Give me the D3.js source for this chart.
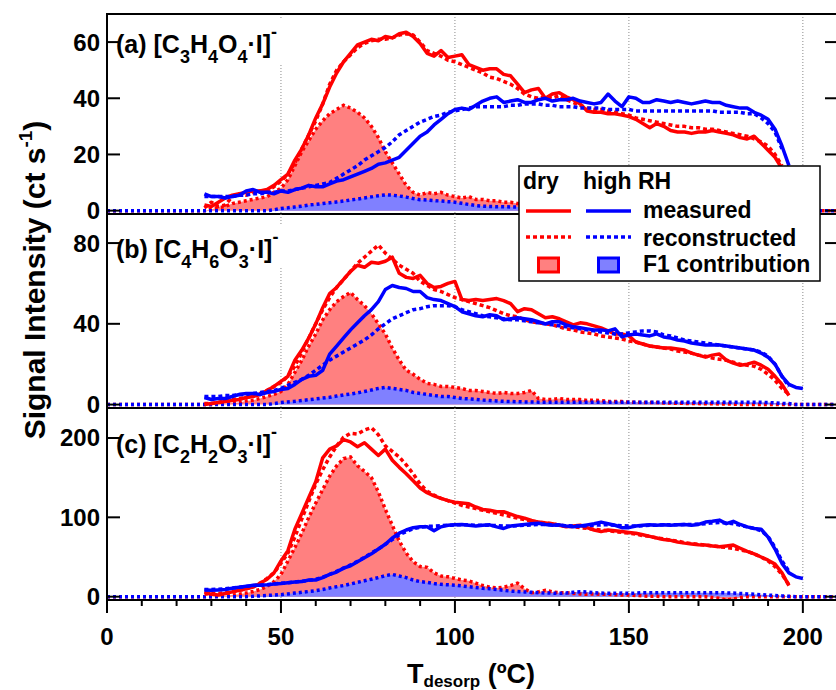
<!DOCTYPE html>
<html>
<head>
<meta charset="utf-8">
<script src="https://cdn.jsdelivr.net/npm/d3@7"></script>
<style>
  body { margin: 0; background: #fff; }
  svg { display: block; }
  text { font-family: Arial, "Liberation Sans", sans-serif; font-weight: bold; fill: #000; }
</style>
</head>
<body>
<svg id="chart" width="836" height="690"></svg>
<script>
// Desorption temperature grid (ºC) shared by every thermogram
const temperature = [28,30,32,34,36,38,40,42,44,46,48,50,52,54,56,58,60,62,64,66,68,70,72,74,76,78,80,82,84,86,88,90,92,94,96,98,100,102,104,106,108,110,112,114,116,118,120,122,124,126,128,130,132,134,136,138,140,142,144,146,148,150,152,154,156,158,160,162,164,166,168,170,172,174,176,178,180,182,184,186,188,190,192,194,196,198,200];

// (a) [C3H4O4·I]-
const aDryMeasured = [2,1.5,3,4.5,5.5,6,6.5,7,7,7.5, 9,11,13,18,22,27,33,38,44,49, 53,56,59,60,61,60.5,62,61.5,63,63.5, 62,59.5,56,55,57,54.5,55,55.5,52,51, 50,50.5,50.5,48.5,48,45,42,43,43.5,40, 41.5,42,40.5,39.5,38,35.5,35,35,34.5,34.5, 34,33.5,32.5,31,29.5,31,30,28.5,28,28, 27.5,28,28,28.5,28,27.5,27,26,25.5,26.5, 24,21.5,19,15,null,null,null];
const aDryReconstructed = [1,3,1.5,2,5,6,5.5,6.5,7,7, 8.5,10.5,13,17,22,27,32,38,45,50, 53,55.5,58,59.5,60.5,61,61,61.5,62.5,63, 62.5,60,57,56,55,53.5,53,52,51,50, 49,47.5,47,46,45,43.5,41.5,40.5,40,40.5, 40,41,39.5,38.5,37.5,36.5,36,36,35.5,35, 34.5,34,33,32.5,32,31.5,31,30.5,30,30, 29.5,29.5,29,29,28.5,28,27.5,27,26.5,25.5, 24.5,23,20,16,null,null,null];
const aWetMeasured = [6,5,5,4.5,5,5.5,7,7.5,6.5,6.5, 6,7,6.5,7.5,8,9,8.5,8.5,9.5,10.5, 11,12,13,14,15,16.5,17,18,19,21.5, 24,26.5,28,30.5,32.5,34.5,36,36.5,36,37.5, 39,40,40.5,38.5,39,39.5,38.5,38.5,39.5,40, 39,39.5,39.5,40,39,38.5,38,38.5,41.5,39, 37,40.5,40,38.5,38.5,39.5,39,38.5,39,38.5, 38,38.5,39,38.5,38.5,37.5,37,36.5,36.5,35, 34,32.5,29,23,16,null,null];
const aWetReconstructed = [5,5,5,5,5,5.5,5.5,6,6,6.5, 6.5,7,7,7.5,8,8.5,9,9.5,10,11.5, 13,14.5,16,18,19.5,21,22.5,24.5,27,28.5, 30,31.5,32.5,33.5,34,35,35.5,36,36.5,37, 37,37,37,37,37.5,37.5,38,38,38,37.5, 37.5,37,37,37,36.5,36.5,36.5,36.5,36,36, 36,36,35.5,35.5,35.5,35.5,35.5,35.5,35.5,35.5, 35.5,35.5,35.5,35.5,35,35,35,35,34.5,34.5, 33,31,28,22,null,null,null];
const aDryF1 = [0,0.5,1,1.5,2.5,3,3.5,4,4.5,5, 6.5,8,11,16,21,25,29,32,34.5,36, 37.5,36.5,35,33,30,26,21,17,13,9, 6.5,5.5,6.5,6,6.5,5.5,5,4.5,5,4, 4,3.5,3.5,3,3,2.5,2.5,2,2,2, 1.5,1.5,1.5,1,1,1,0.8,0.8,0.6,0.6, 0.5,0.5,0.4,0.4,0.3,0.3,0.2,0.2,0,0, 0,0,0,0,0,0,0,0,0,0, 0,0,0,0,0,0,0];
const aWetF1 = [0,0,0,0,0,0,0,0,0,0, 0.3,0.8,1,1.3,1.6,2,2.2,2.5,2.8,3.1, 3.4,3.8,4.1,4.5,4.9,5.3,5.6,5.5,5.2,4.8, 4.3,3.9,3.8,3.6,3.4,3.2,3,2.6,2.2,1.8, 1.6,1.5,1.4,1.4,1.3,1.3,1.2,1.2,1.2,1.2, 1.2,1.2,1.2,1.2,1.2,1.2,1.2,1.2,1.2,1.2, 1.2,1.2,1.2,1.2,1.2,1.2,1.2,1.2,1.2,1.2, 1.1,1.1,1,1,1,1,1,0.9,0.8,0.8, 0.6,0.5,0.3,0.2,0,0,0];

// (b) [C4H6O3·I]-
const bDryMeasured = [0,0.5,1,1.5,2,2.5,3.5,4,5,7, 9,11.5,14,22,27,33,40,48,55,58, 62,66,69,68,70.5,70,71,73,65,63, 62.5,64,60,58,58.5,60,61,52,51.5,52, 51.5,52,52.5,51.5,50,46,47.5,47,45,43, 43.5,42.5,41,39.5,40.5,40,39,38,36.5,35, 35,34,31,30,29,28.5,28,28,27.5,27, 25.5,24.5,23.5,24.5,25,22,20.5,19.5,20,21, 19.5,17.5,14,10,4.5,null,null];
const bDryReconstructed = [0.5,0.5,1,2,2.5,3,3.5,4.5,5.5,7, 9,11,14,19,26,33,40,47,53,58, 62,66,70,73,76,79,75,72,69,67, 65,61,59,57,56,54.5,53,52,51,50, 49,48,46.5,45,44,43.5,42,41,40.5,40, 39.5,38.5,37.5,37,36,35.5,35,34,33.5,33, 32.5,31.5,31,30,29,28.5,28,27.5,26.5,26, 25.5,24.5,24,23,22.5,22,21,20,19.5,19, 17.5,15,12,8,5,null,null];
const bWetMeasured = [3.5,2.5,3,3,4,5,5.5,5.5,5,6, 6.5,7.5,8,10,12.5,14,14.5,17,25,29, 33,37,40.5,44,47,51,57,59,58,57.5, 56,56,53,52,51.5,50,48.5,46,45,44, 43.5,44.5,44,42,42.5,43,42.5,42,41,40, 41,41,39.5,38.5,38,37.5,37,37,36.5,37.5, 33.5,34.5,35,34.5,34,35,33.5,33,32,31.5, 30.5,30,29.5,29.5,29.5,29,28.5,28,27.5,27, 25.5,23.5,20,14,10,8.5,8];
const bWetReconstructed = [4,4,4,4.5,4.5,5,5,5.5,6,6.5, 7,8,9.5,11,12.5,14.5,17,19.5,22,24, 26,28,30,32,34.5,37.5,40,42.5,44,45.5, 47,47.5,48.5,49,49,49,48.5,47,46,45, 44,43.5,43,42.5,42,42,41.5,41,40.5,40, 39.5,39,38.5,38,37.5,37,36.5,36,35.5,35, 35,35.5,36,36.5,36.5,36,34.5,34,33,32, 31.5,31,30.5,30,29.5,29,28.5,28,27.5,27, 26,24,20,14,9,null,null];
const bDryF1 = [0,0,0.3,0.5,0.8,1,1.8,2.2,3,4, 5,6.5,10,16,22,29,35,42,47,51, 53.5,55.5,52,49,45,40,35,28,22,17, 15,12.5,10.5,10,9,9,8.5,8,7,7, 6.5,6,5.5,6,5.5,5.5,6,7,3,2.5, 2.5,3,2.5,2.5,2.5,2,2.2,2,1.5,1.5, 1.5,1.2,1.2,1,1,1,0.8,0.8,0.6,0.6, 0.5,0.5,0.4,0.4,0.3,0.3,0.2,0,0,0, 0,0,0,0,0,0,0];
const bWetF1 = [0,0,0,0,0,0,0,0,0,0, 0.5,1,1.3,1.6,2,2.4,2.8,3.2,3.6,4.2, 4.8,5.2,5.8,6.5,7.2,8,8.5,8,7.5,7, 6,5.5,5,4.5,4,4,3.5,3,2.8,2.5, 2.2,2,1.8,1.6,1.5,1.4,1.3,1.3,1.2,1.2, 1.2,1.2,1.2,1.2,1.2,1.2,1.2,1.2,1.2,1.2, 1.2,1.2,1.2,1.2,1.2,1.2,1.2,1.2,1.2,1.2, 1.2,1.2,1.2,1.2,1.2,1.2,1.2,1.2,1.2,1.2, 1.1,1,0.8,0.6,0.5,0,0];

// (c) [C2H2O3·I]-
const cDryMeasured = [6,3,2,4,6,8,10,12,17,22, 30,45,58,85,105,125,145,175,186,190, 198,195,189,194,186,178,186,172,163,155, 146,137,131,127,124,121,119,118,117,113, 110,109,107,107,104,101,99,96,94,93, 92,90,88,89,90,87,84,82,84,83, 82,81,80,78,76,74,72,71,69,67.5, 66.5,65.5,65,64,63,64,65,61,57,54, 50,46,41,30,14,null,null];
const cDryReconstructed = [3,4,4,5,6,8,10,13,17,23, 30,42,55,75,98,120,142,160,176,190, 201,206,205,210,213,204,190,183,176,166, 155,142,133,128,124,121,118,115,113,111, 109,107,105,103,101,99,97,95,94,93, 92,90,89,88,87,86,85,84,83,82, 81,80,79,77,76,74,73,71,70,68, 67,66,65,64,63,62,61,59,57,54, 50,45,38,28,15,null,null];
const cWetMeasured = [8.5,8,8.5,9,10.5,12,13,14.5,14.5,15, 16,16.5,17.5,18.5,19,21,21,24,28,31, 36,39,44,49,54,60,66,74,80,84, 87,88,88,83,88,90,90.5,91,90,89, 90,90.5,88,86,89,90,91,92,92.5,91, 90,90.5,89,88,89,90.5,92,94,92,90, 87,87,89,90,90.5,90,90.5,90,90.5,91, 90,91,94,95,96.5,92,95,91,88,86, 85,75,60,42,30,25,23];
const cWetReconstructed = [9,9,9.5,10,11,12,13,14,14.5,15, 16,17,17.5,18.5,19.5,20.5,22,24.5,28,32, 36,40,44.5,49.5,55,60,66,72,78,82, 85.5,87.5,88.5,89,89.5,90,90.5,90.5,90.5,90, 90,90,89.5,89,89,89.5,90,90.5,91,91, 90.5,90,89.5,89,89,89.5,90,90.5,90.5,90, 89.5,89,89,89.5,90,90,90.5,90.5,90.5,91, 91,91.5,92,93,93.5,93,92,90,88,86, 83,76,62,45,32,null,null];
const cDryF1 = [0,0,0.5,1,2,3,4.5,6.5,9,13, 19,28,45,62,80,100,118,135,152,165, 174,176,165,158,150,132,110,90,70,55, 44,38,37,30,26,25,23,21,20,17, 14,12,11,12,14,17,10,5,6,8, 6,5,5,4,3.5,3,3.5,3,3,2.5, 2,2,1.5,1,0.5,0.5,0,0,0,0, 0,0,0,-1,-2,-4,-3,-1,0,0, 0,0,0,0,0,0,0];
const cWetF1 = [0,0,0,0,0,0,0,0.5,1,1.5, 2,2.5,3.5,4.5,5.5,6.5,7.5,9,11,12.5, 14,16,18,20,22,24,26.5,28,26,24, 21,19,18,16.5,15.5,15,14.5,13.5,12.5,11.5, 10.5,10,9,8,7,6.5,6,5.5,5,4.5, 4.5,4.2,4.5,5.5,6.3,6,5,4.5,4.2,4.2, 4.5,4.2,4.5,5,5,4.8,5,5,4.8,5, 5,5,4.8,5,5,4.8,4.5,4,3.5,3, 2.5,2,1.5,1,0.5,0,0];

// Panel tags, ion formulas (element, count) and y-axis settings
const panelTags = ["(a)", "(b)", "(c)"];
const ionFormulas = [
  [["C","3"],["H","4"],["O","4"]],
  [["C","4"],["H","6"],["O","3"]],
  [["C","2"],["H","2"],["O","3"]]
];
const yTickValues = [[0,20,40,60], [0,40,80], [0,100,200]];
const yLimits = [[-1.2,70], [-1.7,94.4], [-4.2,237.8]];

// x axis
const xLimits = [0, 210.1];
const xMajorTicks = [0, 50, 100, 150, 200];
const xMinorTicks = [10,20,30,40,60,70,80,90,110,120,130,140,160,170,180,190];
const xGridTemps = [50, 100, 150, 200];

// Legend text
const legendHeaders = ["dry", "high RH"];
const legendRows = ["measured", "reconstructed", "F1 contribution"];

const RED = "#ff0000", BLUE = "#0000ff", PINK = "#ff8080", LAVENDER = "#8080ff";
const LINE_W = 3.5;

const panelsData = [
  { dry: aDryMeasured, dryRec: aDryReconstructed, wet: aWetMeasured, wetRec: aWetReconstructed, dryF1: aDryF1, wetF1: aWetF1 },
  { dry: bDryMeasured, dryRec: bDryReconstructed, wet: bWetMeasured, wetRec: bWetReconstructed, dryF1: bDryF1, wetF1: bWetF1 },
  { dry: cDryMeasured, dryRec: cDryReconstructed, wet: cWetMeasured, wetRec: cWetReconstructed, dryF1: cDryF1, wetF1: cWetF1 }
];

// ---------- layout ----------
const svg = d3.select("#chart");
const plotLeft = 107, plotRight = 838;
const panelBands = [[14, 214], [214, 408], [408, 600]];
const labelBaselines = [53, 258, 453];

const x = d3.scaleLinear().domain(xLimits).range([plotLeft, plotRight]);

const pairs = vals => temperature.map((t, i) => ({ t, v: vals[i] }));
// factor traces are zero outside the desorption window, across the full axis
const paddedPairs = vals => [{ t: xLimits[0], v: 0 }, ...pairs(vals), { t: xLimits[1], v: 0 }];

panelsData.forEach((pd, p) => {
  const [top, bottom] = panelBands[p];
  const y = d3.scaleLinear().domain(yLimits[p]).range([bottom, top]);
  const g = svg.append("g");

  const clipId = "clip" + p;
  svg.append("clipPath").attr("id", clipId)
    .append("rect").attr("x", plotLeft).attr("y", top).attr("width", plotRight - plotLeft).attr("height", bottom - top);

  // vertical dotted grid
  g.selectAll(".grid").data(xGridTemps).join("line")
    .attr("x1", d => x(d)).attr("x2", d => x(d))
    .attr("y1", top).attr("y2", bottom)
    .attr("stroke", "#8a8a8a").attr("stroke-width", 1).attr("stroke-dasharray", "1,2");

  // white panel-label backdrop
  g.append("rect")
    .attr("x", plotLeft + 7).attr("y", labelBaselines[p] - 33)
    .attr("width", 171).attr("height", 43).attr("fill", "#fff");

  const data = g.append("g").attr("clip-path", `url(#${clipId})`);

  const line = d3.line().defined(d => d.v != null).x(d => x(d.t)).y(d => y(d.v));
  const area = d3.area().defined(d => d.v != null).x(d => x(d.t)).y0(y(0)).y1(d => y(d.v));

  // F1 contributions (filled, dotted outline)
  data.append("path").datum(paddedPairs(pd.dryF1)).attr("d", area).attr("fill", PINK);
  data.append("path").datum(paddedPairs(pd.wetF1)).attr("d", area).attr("fill", LAVENDER);
  data.append("path").datum(paddedPairs(pd.dryF1)).attr("d", line)
    .attr("fill", "none").attr("stroke", RED).attr("stroke-width", LINE_W).attr("stroke-dasharray", "3,3");
  data.append("path").datum(paddedPairs(pd.wetF1)).attr("d", line)
    .attr("fill", "none").attr("stroke", BLUE).attr("stroke-width", LINE_W).attr("stroke-dasharray", "3,3");

  const drawTrace = (vals, color, dashed) => {
    data.append("path").datum(pairs(vals)).attr("d", line)
      .attr("fill", "none").attr("stroke", color).attr("stroke-width", LINE_W)
      .attr("stroke-linejoin", "round")
      .attr("stroke-dasharray", dashed ? "4,3" : null);
  };
  drawTrace(pd.dry, RED, false);
  drawTrace(pd.dryRec, RED, true);
  drawTrace(pd.wet, BLUE, false);
  drawTrace(pd.wetRec, BLUE, true);

  // frame
  g.append("line").attr("x1", plotLeft).attr("x2", plotLeft).attr("y1", top - 1).attr("y2", bottom + 1)
    .attr("stroke", "#000").attr("stroke-width", 2);
  g.append("line").attr("x1", plotRight).attr("x2", plotRight).attr("y1", top).attr("y2", bottom)
    .attr("stroke", "#000").attr("stroke-width", 2);
  g.append("line").attr("x1", plotLeft).attr("x2", plotRight).attr("y1", bottom).attr("y2", bottom)
    .attr("stroke", "#000").attr("stroke-width", 2);
  if (p === 0) {
    g.append("line").attr("x1", plotLeft).attr("x2", plotRight).attr("y1", top).attr("y2", top)
      .attr("stroke", "#000").attr("stroke-width", 2);
  }

  // left / right ticks point inward
  g.selectAll(".ltick").data(yTickValues[p]).join("line")
    .attr("x1", plotLeft).attr("x2", plotLeft + 13)
    .attr("y1", d => y(d)).attr("y2", d => y(d))
    .attr("stroke", "#000").attr("stroke-width", 2);
  g.selectAll(".rtick").data(yTickValues[p]).join("line")
    .attr("x1", plotRight).attr("x2", plotRight - 13)
    .attr("y1", d => y(d)).attr("y2", d => y(d))
    .attr("stroke", "#000").attr("stroke-width", 2);
  g.selectAll(".ylab").data(yTickValues[p]).join("text")
    .attr("x", 100).attr("y", d => y(d) + 8.5)
    .attr("text-anchor", "end").attr("font-size", 24)
    .text(d => d);

  // ion label
  const label = g.append("text").attr("x", plotLeft + 9).attr("y", labelBaselines[p]).attr("font-size", 25);
  let shift = 0;
  const seg = (txt, size, off) => {
    label.append("tspan").attr("font-size", size).attr("dy", off - shift).text(txt);
    shift = off;
  };
  seg(panelTags[p] + " [", 25, 0);
  ionFormulas[p].forEach(([el, n]) => { seg(el, 25, 0); seg(n, 18, 10); });
  seg("·I]", 25, 0);
  seg("-", 18, -15);

  // bottom x axis on the last panel only
  if (p === panelBands.length - 1) {
    g.selectAll(".xmaj").data(xMajorTicks).join("line")
      .attr("x1", d => x(d)).attr("x2", d => x(d)).attr("y1", bottom).attr("y2", bottom + 13)
      .attr("stroke", "#000").attr("stroke-width", 2);
    g.selectAll(".xmin").data(xMinorTicks).join("line")
      .attr("x1", d => x(d)).attr("x2", d => x(d)).attr("y1", bottom).attr("y2", bottom + 6)
      .attr("stroke", "#000").attr("stroke-width", 2);
    g.selectAll(".xlab").data(xMajorTicks).join("text")
      .attr("x", d => x(d)).attr("y", bottom + 45)
      .attr("text-anchor", "middle").attr("font-size", 24)
      .text(d => d);
  }
});

// axis titles
const yTitle = svg.append("text")
  .attr("transform", "translate(45,280) rotate(-90)")
  .attr("text-anchor", "middle").attr("font-size", 30);
yTitle.append("tspan").text("Signal Intensity (ct s");
yTitle.append("tspan").attr("font-size", 19).attr("dy", -13).text("-1");
yTitle.append("tspan").attr("dy", 13).text(")");

const xTitle = svg.append("text").attr("x", 407).attr("y", 683).attr("font-size", 27);
xTitle.append("tspan").text("T");
xTitle.append("tspan").attr("font-size", 17).attr("dy", 4).text("desorp");
xTitle.append("tspan").attr("dy", -4).text(" (ºC)");

// legend
const lg = svg.append("g");
lg.append("rect").attr("x", 519).attr("y", 166).attr("width", 301).attr("height", 115)
  .attr("fill", "#fff").attr("stroke", "#000").attr("stroke-width", 1.5);
lg.append("text").attr("x", 523).attr("y", 189).attr("font-size", 23).text(legendHeaders[0]);
lg.append("text").attr("x", 583).attr("y", 189).attr("font-size", 23).text(legendHeaders[1]);
const rowY = [211, 237, 265];
const rowBase = [218, 246, 272];
const cols = [[526, 571, RED, PINK], [586, 631, BLUE, LAVENDER]];
cols.forEach(([x1, x2, c, f]) => {
  lg.append("line").attr("x1", x1).attr("x2", x2).attr("y1", rowY[0]).attr("y2", rowY[0])
    .attr("stroke", c).attr("stroke-width", LINE_W);
  lg.append("line").attr("x1", x1).attr("x2", x2).attr("y1", rowY[1]).attr("y2", rowY[1])
    .attr("stroke", c).attr("stroke-width", LINE_W).attr("stroke-dasharray", "4,3");
  const cx = (x1 + x2) / 2;
  lg.append("rect").attr("x", cx - 10).attr("y", rowY[2] - 7).attr("width", 20).attr("height", 14)
    .attr("fill", f).attr("stroke", c).attr("stroke-width", 3);
});
legendRows.forEach((t, i) => {
  lg.append("text").attr("x", 643).attr("y", rowBase[i]).attr("font-size", 23).text(t);
});
</script>
</body>
</html>
